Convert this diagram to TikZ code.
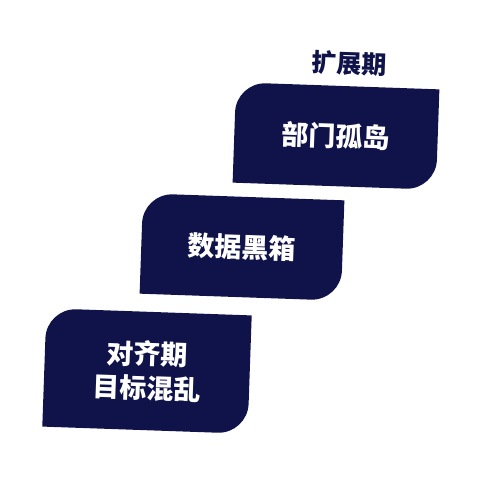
\documentclass[tikz,border=0pt]{standalone}
\usepackage{fontspec}
\newfontfamily\cjk{Noto Sans CJK SC}
\usetikzlibrary{calc}
\usetikzlibrary{backgrounds}
\definecolor{navy}{HTML}{10124A}

\begin{document}
\begin{tikzpicture}[x=1pt,y=-1pt,
  stepbox/.style={inner sep=0pt,align=center,text=white,transform shape,
    font=\cjk\bfseries\fontsize{27}{34}\selectfont},
  steptitle/.style={inner sep=0pt,text=navy,transform shape,
    font=\cjk\bfseries\fontsize{25}{30}\selectfont}]
  \useasboundingbox (0,0) rectangle (480,480);

  % top step
  \begin{scope}[shift={(336,136)},rotate=-2]
    \node[stepbox,minimum width=203pt,minimum height=100pt] (island) at (0,0) {部门孤岛};
    \node[steptitle] (expand) at (11,-73) {扩展期};
    \begin{scope}[on background layer]
      \fill[navy] (island.south west)
        -- ($(island.north west)!30pt!(island.south west)$) arc[start angle=180,end angle=90,radius=30pt]
        -- (island.north east)
        -- ($(island.south east)!30pt!(island.north east)$) arc[start angle=0,end angle=-90,radius=30pt]
        -- cycle;
    \end{scope}
  \end{scope}

  % middle step
  \begin{scope}[shift={(242,247)},rotate=-2]
    \node[stepbox,minimum width=201pt,minimum height=100pt] (blackbox) at (0,0) {数据黑箱};
    \begin{scope}[on background layer]
      \fill[navy] (blackbox.south west)
        -- ($(blackbox.north west)!30pt!(blackbox.south west)$) arc[start angle=180,end angle=90,radius=30pt]
        -- (blackbox.north east)
        -- ($(blackbox.south east)!30pt!(blackbox.north east)$) arc[start angle=0,end angle=-90,radius=30pt]
        -- cycle;
    \end{scope}
  \end{scope}

  % bottom step
  \begin{scope}[shift={(147,371)},rotate=-2]
    \node[stepbox,minimum width=205pt,minimum height=118pt] (chaos) at (0,0) {对齐期\\目标混乱};
    \begin{scope}[on background layer]
      \fill[navy] (chaos.south west)
        -- ($(chaos.north west)!30pt!(chaos.south west)$) arc[start angle=180,end angle=90,radius=30pt]
        -- (chaos.north east)
        -- ($(chaos.south east)!30pt!(chaos.north east)$) arc[start angle=0,end angle=-90,radius=30pt]
        -- cycle;
    \end{scope}
  \end{scope}

\end{tikzpicture}
\end{document}
